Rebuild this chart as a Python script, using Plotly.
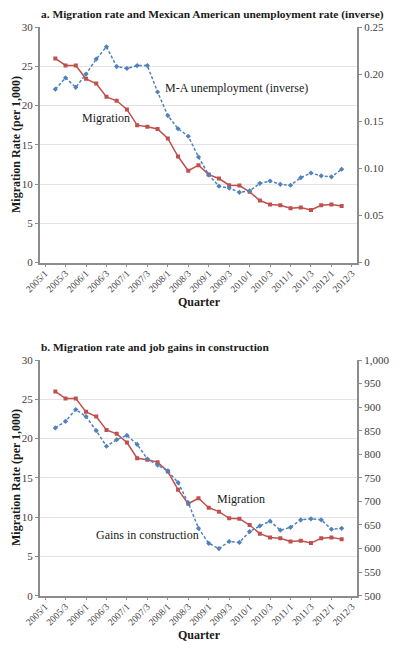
import plotly.graph_objects as go

quarters = [f"{y}/{q}" for y in range(2005, 2013) for q in range(1, 5)][:31]
data_quarters = quarters[1:30]  # 2005/2 .. 2012/2

migration = [26.0, 25.1, 25.1, 23.4, 22.8, 21.1, 20.6, 19.5, 17.5, 17.3, 17.0, 15.8,
             13.5, 11.7, 12.4, 11.2, 10.7, 9.85, 9.8, 9.0, 7.9, 7.4, 7.3, 6.9, 7.0,
             6.7, 7.3, 7.4, 7.2]
ma_unemp_inverse = [0.184, 0.196, 0.186, 0.200, 0.216, 0.229, 0.208, 0.206, 0.209,
                    0.209, 0.181, 0.156, 0.142, 0.134, 0.112, 0.093, 0.081, 0.079,
                    0.0745, 0.076, 0.084, 0.0865, 0.083, 0.082, 0.090, 0.095, 0.092,
                    0.091, 0.099]
construction_gains = [856, 870, 895, 880, 850, 817, 831, 840, 821, 790, 777, 765, 740,
                      697, 643, 611, 600, 615, 613, 636, 648, 658, 639, 645, 661, 663,
                      661, 641, 643]

tick_quarters = quarters[::2]
left_ticks = [0, 5, 10, 15, 20, 25, 30]
right_ticks_a = [0, 0.05, 0.10, 0.15, 0.20, 0.25]
right_text_a = ["0", "0.05", "0.10", "0.15", "0.20", "0.25"]
right_ticks_b = [500, 550, 600, 650, 700, 750, 800, 850, 900, 950, 1000]

RED = "#C0504D"
BLUE = "#4F81BD"
FONT = "Liberation Serif"
OFF = 8  # page body margin
W, H = 400 - OFF, 649 - OFF

def px(x):
    return (x - OFF) / W

def py(y):
    return 1 - (y - OFF) / H

fig = go.Figure()

DASH = "3px,2px"
# Panel a
fig.add_trace(go.Scatter(x=data_quarters, y=migration, mode="lines+markers",
                         line=dict(color=RED, width=1.5),
                         marker=dict(symbol="square", size=4, color=RED),
                         xaxis="x", yaxis="y", showlegend=False))
fig.add_trace(go.Scatter(x=data_quarters, y=ma_unemp_inverse, mode="lines+markers",
                         line=dict(color=BLUE, width=1.5, dash=DASH),
                         marker=dict(symbol="diamond", size=4, color=BLUE),
                         xaxis="x", yaxis="y2", showlegend=False))
# Panel b
fig.add_trace(go.Scatter(x=data_quarters, y=migration, mode="lines+markers",
                         line=dict(color=RED, width=1.5),
                         marker=dict(symbol="square", size=4, color=RED),
                         xaxis="x2", yaxis="y3", showlegend=False))
fig.add_trace(go.Scatter(x=data_quarters, y=construction_gains, mode="lines+markers",
                         line=dict(color=BLUE, width=1.5, dash=DASH),
                         marker=dict(symbol="diamond", size=4, color=BLUE),
                         xaxis="x2", yaxis="y4", showlegend=False))

xdom = [px(40), px(357)]
dom_a = [py(262.5), py(27)]
dom_b = [py(595.7), py(360)]

tickfont = dict(family=FONT, size=11, color="#404040")

def xaxis(anchor):
    return dict(domain=xdom, anchor=anchor, type="category",
                categoryorder="array", categoryarray=quarters,
                range=[-0.5, 30.5], tickmode="array", tickvals=tick_quarters,
                ticktext=tick_quarters, tickangle=-45,
                tickfont=dict(family=FONT, size=9.5, color="#404040"),
                showline=True, linecolor="#8C8C8C", linewidth=1.5,
                ticks="outside", ticklen=3, tickcolor="#8C8C8C",
                ticklabelstandoff=-3,
                showgrid=False, zeroline=False, automargin=False)

def yleft(anchor, dom):
    return dict(domain=dom, anchor=anchor, range=[0, 30], tickmode="array",
                tickvals=left_ticks, tickfont=tickfont,
                showline=True, linecolor="#8C8C8C", linewidth=2,
                ticks="outside", ticklen=3, tickcolor="#8C8C8C",
                showgrid=True, gridcolor="#E3E3E3", gridwidth=1,
                zeroline=False, automargin=False)

def yright(overlay, anchor, rng, vals, **kw):
    return dict(overlaying=overlay, side="right", anchor=anchor, range=rng,
                tickmode="array", tickvals=vals,
                tickfont=tickfont, showline=True, linecolor="#8C8C8C", linewidth=2,
                ticks="outside", ticklen=3, tickcolor="#8C8C8C",
                showgrid=False, zeroline=False, automargin=False, **kw)

fig.update_layout(
    width=W, height=H, margin=dict(l=0, r=0, t=0, b=0),
    paper_bgcolor="white", plot_bgcolor="white",
    xaxis=xaxis("y"),
    xaxis2=xaxis("y3"),
    yaxis=yleft("x", dom_a),
    yaxis2=yright("y", "x", [0, 0.25], right_ticks_a, ticktext=right_text_a),
    yaxis3=yleft("x2", dom_b),
    yaxis4=yright("y3", "x2", [500, 1000], right_ticks_b, tickformat=","),
)

def ann(text, x, y, size=12, bold=False, angle=0, xanchor="center"):
    fig.add_annotation(text=f"<b>{text}</b>" if bold else text,
                       x=px(x), y=py(y), xref="paper", yref="paper",
                       showarrow=False, textangle=angle, xanchor=xanchor,
                       yanchor="middle",
                       font=dict(family=FONT, size=size, color="#1a1a1a"))

ann("a. Migration rate and Mexican American unemployment rate (inverse)", 39, 14, size=11.4, bold=True, xanchor="left")
ann("b. Migration rate and job gains in construction", 39, 347, size=11.4, bold=True, xanchor="left")
ann("Migration Rate (per 1,000)", 16, 145, size=12, bold=True, angle=-90)
ann("Migration Rate (per 1,000)", 16, 478, size=12, bold=True, angle=-90)
ann("Quarter", 199, 302, size=12, bold=True)
ann("Quarter", 199, 635, size=12, bold=True)
ann("M-A unemployment (inverse)", 237, 88, size=12)
ann("Migration", 106, 118, size=12)
ann("Migration", 241, 499, size=12)
ann("Gains in construction", 147, 535, size=12)

fig.write_html("out.html")
